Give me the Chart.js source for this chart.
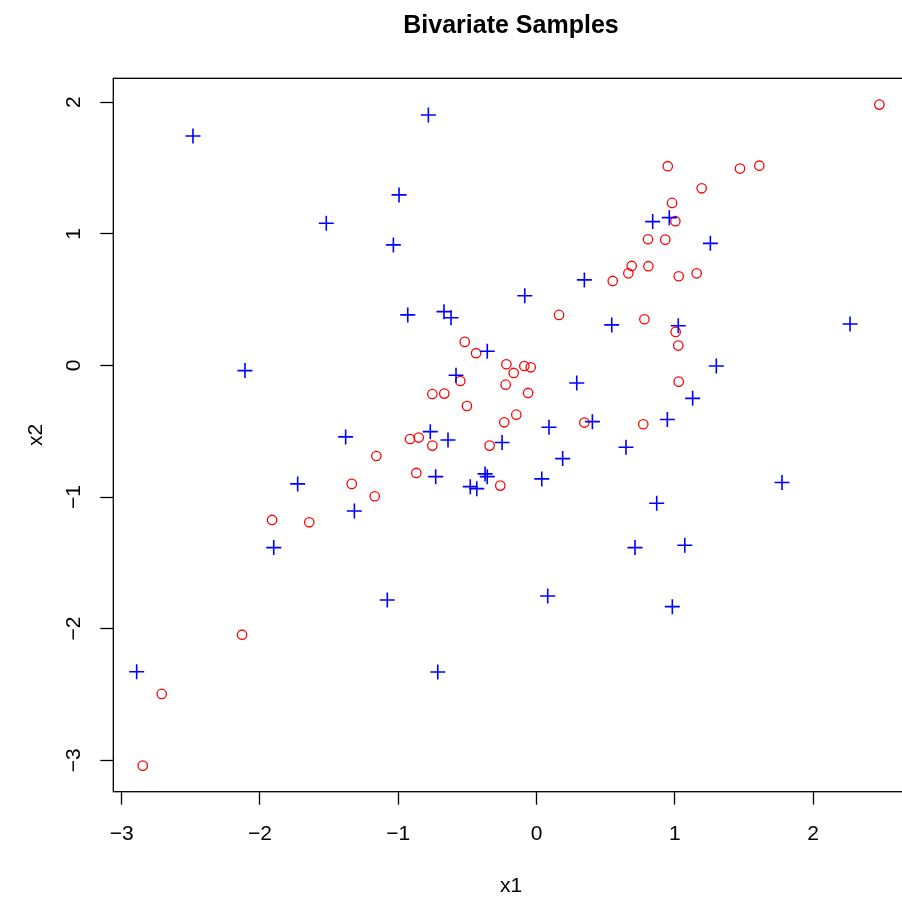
<!DOCTYPE html>
<html>
<head>
<meta charset="utf-8">
<script src="https://cdn.jsdelivr.net/npm/chart.js@4"></script>
<style>
  html, body { margin: 0; padding: 0; background: #fff; overflow: hidden; }
  #wrap { width: 920px; height: 899px; position: relative; }
</style>
</head>
<body>
<div id="wrap"><canvas id="scatter_canvas"></canvas></div>
<script>
//DATA
var chartTitle = "Bivariate Samples";
var xTitle = "x1", yTitle = "x2";
var xTicks = [-3, -2, -1, 0, 1, 2];
var yTicks = [-3, -2, -1, 0, 1, 2];

// red circles
var circleX = [0.163, 0.551, 0.664, 0.688, 0.780, -0.519, -0.437, -0.218, -0.165, -0.088,
    -0.042, -0.551, -0.223, -0.061, -0.753, -0.667, -0.503, -0.146, -0.233, 0.346,
    0.772, -0.915, -0.852, -0.753, -0.339, -1.158, -0.869, -0.262, -1.170, 0.949,
    1.471, 1.611, 1.194, 0.980, 1.004, 0.806, 0.931, 0.809, 1.028, 1.158,
    1.006, 1.025, 1.028, -1.336, -1.912, -1.643, -2.129, -2.710, -2.847, 2.479];
var circleY = [0.384, 0.642, 0.700, 0.756, 0.351, 0.179, 0.093, 0.009, -0.057, -0.004,
    -0.014, -0.118, -0.146, -0.209, -0.217, -0.214, -0.308, -0.374, -0.432, -0.434,
    -0.447, -0.559, -0.548, -0.609, -0.609, -0.688, -0.817, -0.913, -0.994, 1.514,
    1.496, 1.518, 1.346, 1.235, 1.096, 0.959, 0.956, 0.754, 0.678, 0.700,
    0.255, 0.151, -0.123, -0.900, -1.174, -1.192, -2.046, -2.496, -3.041, 1.982];

// blue crosses
var crossX = [-2.484, -1.520, -0.782, -0.994, -1.035, -0.085, 0.346, -0.931, -0.669, -0.618,
    0.544, -0.356, -0.582, 0.291, 0.404, 0.090, -0.768, -0.640, -0.249, 0.647,
    0.189, -0.729, -0.372, -0.356, 0.038, -0.479, -0.432, 0.712, 0.840, 0.960,
    1.257, 1.025, 2.267, 1.300, 1.129, 0.946, 1.775, 0.869, 1.072, -2.108,
    -1.380, -1.727, -1.317, -1.900, -2.891, -1.079, 0.081, -0.714, 0.982];
var crossY = [1.744, 1.081, 1.903, 1.296, 0.916, 0.530, 0.650, 0.384, 0.409, 0.362,
    0.308, 0.108, -0.075, -0.133, -0.427, -0.470, -0.503, -0.566, -0.586, -0.622,
    -0.708, -0.845, -0.824, -0.845, -0.862, -0.921, -0.936, -1.384, 1.093, 1.123,
    0.928, 0.302, 0.315, -0.004, -0.250, -0.411, -0.890, -1.047, -1.366, -0.039,
    -0.543, -0.900, -1.106, -1.384, -2.327, -1.782, -1.752, -2.329, -1.833];

var FONT = '"Liberation Sans", Arial, Helvetica, sans-serif';

function toPoints(xs, ys) {
    var pts = [];
    for (var i = 0; i < xs.length; i++)
        pts.push({ x: xs[i], y: ys[i] });
    return pts;
}

function fmt(v) {
    return v < 0 ? "\u2212" + Math.abs(v) : String(v);
}

// R style frame, rotated y labels and titles
var rFrame = {
    id: 'rFrame',
    afterDraw: function(chart) {
        var ctx = chart.ctx, a = chart.chartArea, ys = chart.scales.y;
        ctx.save();
        ctx.strokeStyle = '#000';
        ctx.lineWidth = 1.3;
        ctx.strokeRect(a.left, a.top, a.right - a.left, a.bottom - a.top);
        ctx.fillStyle = '#000';
        ctx.textAlign = 'center';
        ctx.textBaseline = 'middle';
        ctx.font = '21px ' + FONT;
        for (var i = 0; i < yTicks.length; i++) {
            ctx.save();
            ctx.translate(74, ys.getPixelForValue(yTicks[i]));
            ctx.rotate(-Math.PI / 2);
            ctx.fillText(fmt(yTicks[i]), 0, 0);
            ctx.restore();
        }
        var cx = (a.left + a.right) / 2;
        ctx.fillText(xTitle, cx, 886);
        ctx.save();
        ctx.translate(36, (a.top + a.bottom) / 2);
        ctx.rotate(-Math.PI / 2);
        ctx.fillText(yTitle, 0, 0);
        ctx.restore();
        ctx.font = 'bold 25px ' + FONT;
        ctx.fillText(chartTitle, cx, 26);
        ctx.restore();
    }
};

var ctx = document.getElementById("scatter_canvas").getContext('2d');
var scatterChart = new Chart(ctx, {
    type: 'scatter',
    data: {
        datasets: [{
            label: 'crosses',
            data: toPoints(crossX, crossY),
            pointStyle: 'cross',
            pointRadius: 7.5,
            pointHoverRadius: 7.5,
            borderColor: '#0000ff',
            backgroundColor: '#0000ff',
            borderWidth: 1.6
        }, {
            label: 'circles',
            data: toPoints(circleX, circleY),
            pointStyle: 'circle',
            pointRadius: 4.7,
            pointHoverRadius: 4.7,
            borderColor: '#ff0000',
            backgroundColor: 'rgba(0,0,0,0)',
            borderWidth: 1.3
        }]
    },
    options: {
        responsive: true,
        maintainAspectRatio: false,
        animation: false,
        devicePixelRatio: 1,
        layout: { padding: { top: 78.3, right: 11.3, left: 0, bottom: 0 } },
        plugins: {
            legend: { display: false },
            tooltip: { enabled: false },
            title: { display: false }
        },
        scales: {
            x: {
                type: 'linear',
                min: -3.06,
                max: 2.691,
                afterBuildTicks: function(s) { s.ticks = xTicks.map(function(v) { return { value: v }; }); },
                afterFit: function(s) { s.height = 107.3; },
                border: { display: false },
                grid: { drawOnChartArea: false, drawTicks: true, tickLength: 13, tickColor: '#000', tickWidth: 1.3 },
                ticks: {
                    color: '#000',
                    font: { size: 21, family: FONT },
                    padding: 17,
                    maxRotation: 0,
                    callback: function(v) { return fmt(v); }
                }
            },
            y: {
                type: 'linear',
                min: -3.239,
                max: 2.182,
                afterBuildTicks: function(s) { s.ticks = yTicks.map(function(v) { return { value: v }; }); },
                afterFit: function(s) { s.width = 113.3; },
                border: { display: false },
                grid: { drawOnChartArea: false, drawTicks: true, tickLength: 13, tickColor: '#000', tickWidth: 1.3 },
                ticks: { display: false }
            }
        }
    },
    plugins: [rFrame]
});
</script>
</body>
</html>
